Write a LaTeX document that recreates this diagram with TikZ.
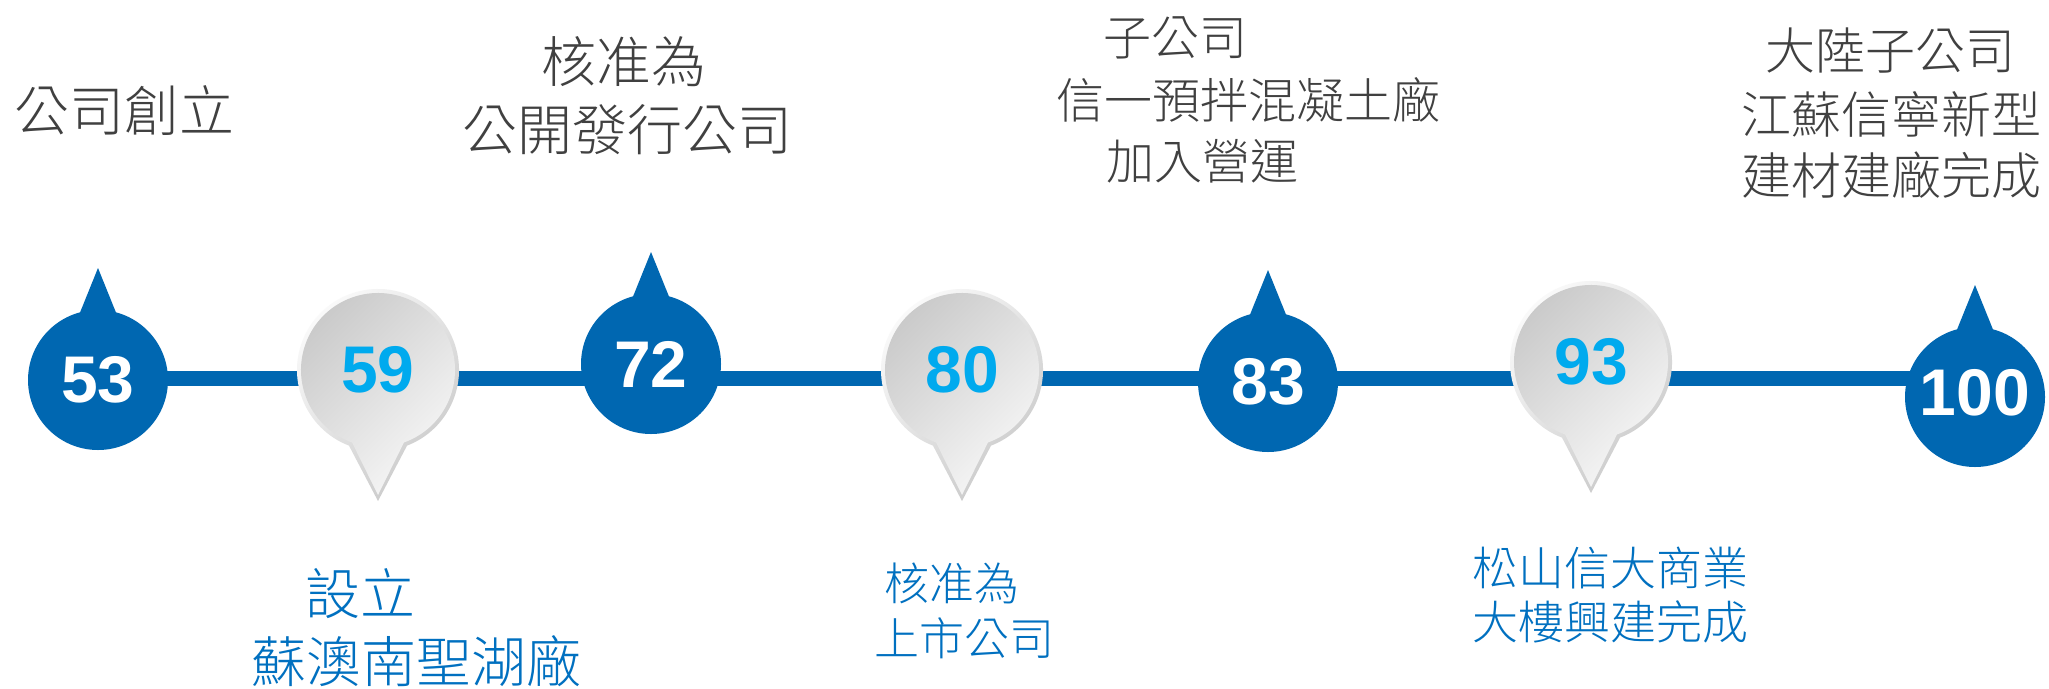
\documentclass[tikz,border=0pt]{standalone}
\usepackage{fontspec}
\usetikzlibrary{calc}
\setmainfont{Liberation Sans}
\newfontfamily\cjk{Noto Sans CJK TC Light}
\definecolor{mblue}{HTML}{0067B1}
\definecolor{dcyan}{HTML}{00AAEE}
\definecolor{tgray}{HTML}{404040}
\definecolor{tblue}{HTML}{0070C0}
\definecolor{pinA}{HTML}{C9C9C9}
\definecolor{pinB}{HTML}{F8F8F8}
\definecolor{edgeA}{HTML}{FBFBFB}
\definecolor{edgeB}{HTML}{C8C8C8}
\tikzset{
  num/.style={inner sep=0pt, font=\fontsize{66}{66}\selectfont\bfseries},
  numw/.style={num, text=white},
  numc/.style={num, text=dcyan},
  toplbl/.style={inner sep=0pt, text=tgray},
  botlbl/.style={inner sep=0pt, text=tblue},
  bluefill/.style={fill=mblue, draw=none},
}
\newcommand\BluePin[1]{%
  \begin{scope}[shift={(#1)}]
    \path[bluefill] (0,0) circle (70);
    \path[bluefill] (-21,-60) -- (0,-112) -- (21,-60) -- cycle;
  \end{scope}}
\newcommand\GrayPin[1]{%
  \begin{scope}[shift={(#1)}]
    \shade[top color=edgeA, bottom color=edgeB, shading angle=45]
      (69:81) arc[start angle=69, end angle=-249, radius=81] -- (0,131) -- cycle;
    \shade[top color=pinA, bottom color=pinB, shading angle=45]
      (70.3:77) arc[start angle=70.3, end angle=-250.3, radius=77] -- (0,125) -- cycle;
  \end{scope}}
\newcommand\TopF[1]{\cjk\fontsize{#1}{#1}\selectfont}
\begin{document}
\begin{tikzpicture}[x=1pt,y=-1pt]
  \useasboundingbox (0,0) rectangle (2049,688);
  \fill[white] (0,0) rectangle (2049,688);
  % centres
  \coordinate (c53) at (98,380);
  \coordinate (c59) at (378,370);
  \coordinate (c72) at (651,364);
  \coordinate (c80) at (962,370);
  \coordinate (c83) at (1268,382);
  \coordinate (c93) at (1591,362);
  \coordinate (c100) at (1975,397);
  \coordinate (c100t) at (1975,393);
  % timeline
  \coordinate (lineL) at (98,378);
  \coordinate (lineR) at (1975,378);
  \draw[mblue, line width=15pt] (lineL) -- (lineR);
  % markers
  \BluePin{c53}
  \GrayPin{c59}
  \BluePin{c72}
  \GrayPin{c80}
  \BluePin{c83}
  \GrayPin{c93}
  \BluePin{c100}
  % numbers
  \node[numw] (n53) at (c53) {53};
  \node[numc] (n59) at (c59) {59};
  \node[numw] (n72) at (c72) {72};
  \node[numc] (n80) at (c80) {80};
  \node[numw] (n83) at (c83) {83};
  \node[numc] (n93) at (c93) {93};
  \node[numw] (n100) at (c100t) {100};
  % top labels
  \node[toplbl, font=\TopF{55}] (t53) at (124,111) {公司創立};
  \node[toplbl, font=\TopF{55}] (t72a) at (624,62) {核准為};
  \node[toplbl, font=\TopF{55}] (t72b) at (627,130) {公開發行公司};
  \node[toplbl, font=\TopF{48}] (t83a) at (1175,38) {子公司};
  \node[toplbl, font=\TopF{48}] (t83b) at (1248,100) {信一預拌混凝土廠};
  \node[toplbl, font=\TopF{48}] (t83c) at (1202,161) {加入營運};
  \node[toplbl, font=\TopF{50}] (t100a) at (1890,51) {大陸子公司};
  \node[toplbl, font=\TopF{50}] (t100b) at (1891,114) {江蘇信寧新型};
  \node[toplbl, font=\TopF{50}] (t100c) at (1891,175) {建材建廠完成};
  % bottom labels
  \node[botlbl, font=\TopF{55}] (b59a) at (360,594) {設立};
  \node[botlbl, font=\TopF{55}] (b59b) at (416,661) {蘇澳南聖湖廠};
  \node[botlbl, font=\TopF{45}] (b80a) at (952,583) {核准為};
  \node[botlbl, font=\TopF{45}] (b80b) at (964,638) {上市公司};
  \node[botlbl, font=\TopF{46}] (b93a) at (1610,568) {松山信大商業};
  \node[botlbl, font=\TopF{46}] (b93b) at (1610,622) {大樓興建完成};
\end{tikzpicture}
\end{document}
